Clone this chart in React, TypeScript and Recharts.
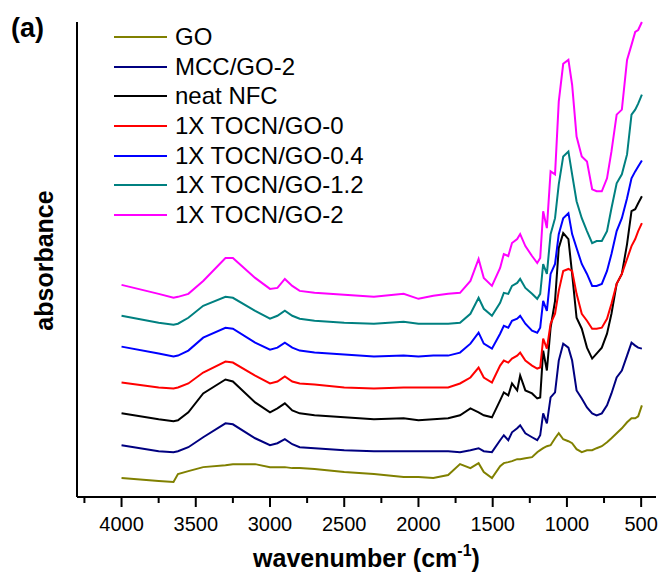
import { LineChart, Line, XAxis, YAxis, Legend } from 'recharts';

const FONT = '"Liberation Sans", Arial, sans-serif';

// wavenumber (cm-1)
const wavenumbers = [
  4000, 3750, 3650, 3620, 3550, 3450, 3300, 3250, 3100, 3000, 2950, 2900, 2850, 2800, 2700,
  2500, 2300, 2100, 2000, 1900, 1800, 1720, 1650, 1595, 1560, 1505, 1450, 1425, 1395, 1370,
  1335, 1315, 1280, 1235, 1200, 1180, 1160, 1135, 1110, 1080, 1055, 1025, 990, 965, 935,
  900, 865, 830, 800, 765, 730, 700, 665, 630, 595, 565, 540, 520, 495,
];

// absorbance, offset stacked (arbitrary units)
const goValues = [
  22, 19, 18, 26, 29, 33, 35, 36, 36, 33, 33, 33, 32, 32, 31,
  28, 26, 23, 23, 22, 25, 36, 32, 37, 28, 22, 34, 37, 38, 39,
  41, 41, 42, 43, 48, 50, 52, 54, 55, 62, 67, 61, 59, 57, 51,
  48, 50, 50, 52, 54, 58, 62, 67, 72, 78, 82, 82, 84, 95,
];
const mccGo2Values = [
  55, 49, 48, 49, 53, 63, 77, 76, 62, 55, 57, 61, 56, 53, 52,
  50, 49, 49, 49, 49, 49, 48, 50, 52, 49, 48, 60, 65, 60, 68,
  72, 75, 67, 63, 60, 65, 87, 77, 103, 108, 140, 157, 153, 140, 110,
  102, 93, 87, 85, 87, 95, 107, 123, 130, 145, 158, 155, 153, 152,
];
const neatNfcValues = [
  87, 81, 79, 80, 88, 107, 121, 119, 98, 88, 92, 97, 90, 87, 85,
  83, 81, 82, 80, 81, 82, 85, 92, 88, 85, 83, 100, 108, 105, 117,
  110, 125, 110, 107, 102, 103, 150, 130, 173, 200, 253, 268, 262, 227, 183,
  172, 153, 142, 147, 153, 167, 187, 217, 227, 257, 290, 292, 298, 305,
];
const tocnGo0Values = [
  118, 113, 112, 113, 117, 128, 139, 138, 125, 117, 119, 124, 119, 117, 116,
  113, 112, 113, 113, 113, 113, 117, 123, 133, 123, 118, 135, 140, 138, 142,
  145, 148, 140, 135, 132, 133, 162, 152, 177, 187, 210, 230, 232, 230, 207,
  187, 180, 172, 172, 173, 182, 197, 217, 227, 242, 255, 262, 270, 278,
];
const tocnGo04Values = [
  154, 147, 144, 145, 150, 163, 173, 172, 158, 151, 153, 158, 153, 150, 148,
  146, 144, 145, 144, 145, 145, 148, 157, 168, 157, 152, 167, 175, 173, 180,
  182, 185, 177, 170, 168, 173, 200, 190, 227, 237, 267, 283, 288, 267, 253,
  237, 227, 215, 215, 217, 230, 247, 270, 283, 303, 323, 330, 335, 341,
];
const tocnGo12Values = [
  185, 178, 176, 177, 183, 195, 204, 203, 190, 182, 185, 190, 185, 182, 180,
  178, 177, 179, 177, 177, 177, 178, 187, 203, 192, 185, 198, 208, 207, 215,
  218, 222, 213, 207, 202, 207, 237, 227, 267, 283, 317, 345, 350, 327, 300,
  283, 270, 258, 260, 260, 270, 293, 318, 327, 347, 387, 392, 398, 407,
];
const tocnGo2Values = [
  216, 207, 203, 204, 207, 220, 243, 243, 223, 212, 213, 222, 215, 210, 208,
  206, 204, 207, 202, 205, 207, 208, 220, 242, 223, 215, 233, 247, 245, 258,
  262, 267, 255, 245, 238, 243, 290, 273, 330, 327, 400, 438, 442, 417, 365,
  345, 340, 312, 310, 310, 323, 350, 387, 392, 442, 457, 470, 472, 480,
];

const seriesList = [
  { key: 'go', name: 'GO', color: '#808000', values: goValues },
  { key: 'mccGo2', name: 'MCC/GO-2', color: '#000080', values: mccGo2Values },
  { key: 'neatNfc', name: 'neat NFC', color: '#000000', values: neatNfcValues },
  { key: 'tocnGo0', name: '1X TOCN/GO-0', color: '#ff0000', values: tocnGo0Values },
  { key: 'tocnGo04', name: '1X TOCN/GO-0.4', color: '#0000ff', values: tocnGo04Values },
  { key: 'tocnGo12', name: '1X TOCN/GO-1.2', color: '#008080', values: tocnGo12Values },
  { key: 'tocnGo2', name: '1X TOCN/GO-2', color: '#ff00ff', values: tocnGo2Values },
];

const xTicks = [4250, 4000, 3750, 3500, 3250, 3000, 2750, 2500, 2250, 2000, 1750, 1500, 1250, 1000, 750, 500];

const data = wavenumbers.map((wn, i) => {
  const row: any = { wn };
  seriesList.forEach((s) => (row[s.key] = s.values[i]));
  return row;
});

const XTick = ({ x, y, payload }: any) => {
  const major = payload.value % 500 === 0;
  return (
    <g>
      <line x1={x} x2={x} y1={y} y2={y + (major ? 10 : 6)} stroke="#000" strokeWidth={2} />
      {major && (
        <text x={x} y={y + 34} textAnchor="middle" fontSize={20} fontFamily={FONT} fill="#000">
          {payload.value}
        </text>
      )}
    </g>
  );
};

const LegendBox = () => (
  <div style={{ fontFamily: FONT, fontSize: 24, color: '#000' }}>
    {seriesList.map((s) => (
      <div key={s.key} style={{ display: 'flex', alignItems: 'center', height: 29.7, whiteSpace: 'nowrap' }}>
        <svg width={53} height={4} style={{ display: 'block' }}>
          <line x1={0} x2={53} y1={2} y2={2} stroke={s.color} strokeWidth={2} />
        </svg>
        <span style={{ marginLeft: 8, lineHeight: '29.7px' }}>{s.name}</span>
      </div>
    ))}
  </div>
);

const XTitle = ({ viewBox }: any) => {
  const cx = viewBox.x + viewBox.width / 2;
  return (
    <text x={cx} y={567} textAnchor="middle" fontSize={25} fontWeight="bold" fontFamily={FONT} fill="#000">
      wavenumber (cm
      <tspan fontSize={16} dy={-11}>-1</tspan>
      <tspan dy={11}>)</tspan>
    </text>
  );
};

const YTitle = ({ viewBox }: any) => {
  const cy = viewBox.y + viewBox.height / 2 + 1;
  const bx = viewBox.x + viewBox.width - 24;
  return (
    <text
      x={bx}
      y={cy}
      transform={`rotate(-90, ${bx}, ${cy})`}
      textAnchor="middle"
      fontSize={25}
      fontWeight="bold"
      fontFamily={FONT}
      fill="#000"
    >
      absorbance
    </text>
  );
};

export default function App() {
  return (
    <div style={{ position: 'absolute', left: 0, top: 0, background: '#fff' }}>
      <LineChart width={659} height={580} data={data} margin={{ top: 22, right: 3, left: 60, bottom: 0 }}>
        <XAxis
          dataKey="wn"
          type="number"
          domain={[400, 4300]}
          reversed
          ticks={xTicks}
          interval={0}
          height={83}
          tickSize={0}
          tickMargin={0}
          tickLine={false}
          tick={<XTick />}
          axisLine={{ stroke: '#000', strokeWidth: 2 }}
          label={<XTitle />}
        />
        <YAxis
          type="number"
          domain={[3, 478]}
          width={17}
          tick={false}
          tickLine={false}
          axisLine={{ stroke: '#000', strokeWidth: 2 }}
          label={<YTitle />}
        />
        <Legend
          layout="vertical"
          align="center"
          verticalAlign="middle"
          content={<LegendBox />}
          wrapperStyle={{ top: 22, left: 114, width: 300, height: 210 }}
        />
        {seriesList.map((s) => (
          <Line
            key={s.key}
            dataKey={s.key}
            name={s.name}
            stroke={s.color}
            strokeWidth={2}
            dot={false}
            type="linear"
            isAnimationActive={false}
          />
        ))}
        <text x={11} y={37} fontSize={27} fontWeight="bold" fontFamily={FONT} fill="#000">
          (a)
        </text>
      </LineChart>
    </div>
  );
}
